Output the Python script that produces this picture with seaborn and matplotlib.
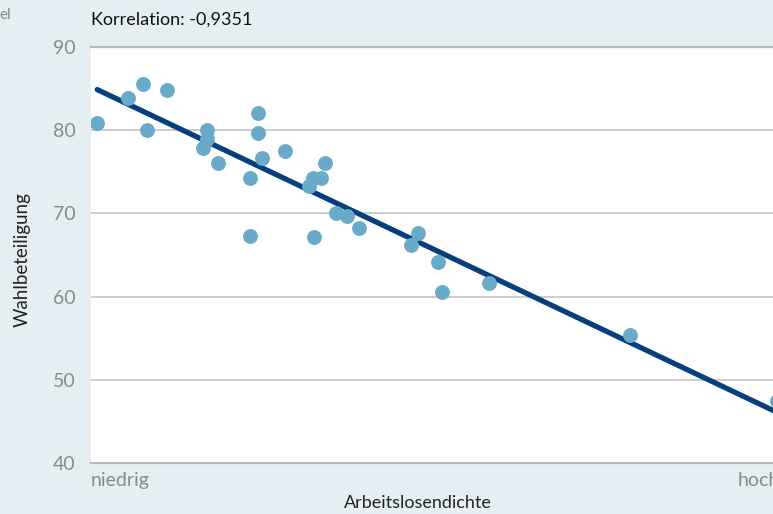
import numpy as np
import pandas as pd
import matplotlib.pyplot as plt
import seaborn as sns

# Data (x: unemployment density, 0 = niedrig, 100 = hoch)
arbeitslosendichte = [0.9, 5.4, 7.6, 8.2, 11.1, 16.2, 16.8, 16.8, 18.4, 23.1,
                      23.1, 24.3, 24.3, 24.8, 28.2, 31.7, 32.2, 32.3, 33.4, 33.9,
                      35.5, 37.2, 38.9, 46.4, 47.5, 50.4, 51.0, 57.7, 78.2, 99.6]
wahlbeteiligung = [80.8, 83.8, 85.5, 80.0, 84.8, 77.8, 80.0, 78.9, 76.0, 74.3,
                   67.3, 82.1, 79.6, 76.7, 77.5, 73.3, 74.2, 67.2, 74.2, 76.1,
                   70.0, 69.7, 68.3, 66.2, 67.7, 64.2, 60.6, 61.6, 55.4, 47.5]
y_ticks = [40, 50, 60, 70, 80, 90]
x_tick_labels = ['niedrig', 'hoch']
korrelation_text = 'Korrelation: -0,9351'

df = pd.DataFrame({'x': arbeitslosendichte, 'y': wahlbeteiligung})

bg = '#e4eef3'
sns.set_style('white')
plt.rcParams['font.family'] = ['Lato', 'DejaVu Sans']

fig = plt.figure(figsize=(7.73, 5.14), dpi=100, facecolor=bg)
ax = fig.add_axes([91 / 773, 1 - 463.3 / 514, 689 / 773, 416.6 / 514])
ax.set_facecolor('white')

# Scatter points and regression line
sns.regplot(data=df, x='x', y='y', ax=ax, ci=None, truncate=True,
            scatter_kws={'s': 115, 'color': '#6aaac9', 'linewidths': 0, 'alpha': 1, 'zorder': 3},
            line_kws={'color': '#053f7e', 'linewidth': 3.8, 'zorder': 2})

ax.set_xlim(0, 100)
ax.set_ylim(40, 90)
ax.set_yticks(y_ticks)
ax.set_yticklabels([str(t) for t in y_ticks], color='#8a8a8a', fontsize=14)
ax.set_xticks([0, 100])
ax.set_xticklabels(x_tick_labels, color='#8a8a8a', fontsize=14)
ax.get_xticklabels()[0].set_ha('left')
ax.get_xticklabels()[1].set_ha('right')
ax.tick_params(length=0, axis='y', pad=11)
ax.tick_params(length=0, axis='x', pad=6)

# Horizontal grid lines only
ax.grid(axis='y', color='#c8c8c8', linewidth=1.3)
ax.grid(axis='x', visible=False)
for side in ['left', 'right']:
    ax.spines[side].set_visible(False)
for side in ['top', 'bottom']:
    ax.spines[side].set_color('#b8b9bd')
    ax.spines[side].set_linewidth(1.6)

ax.set_xlabel('Arbeitslosendichte', fontsize=13, color='#222222')
ax.xaxis.set_label_coords(0.475, -0.075)
ax.set_ylabel('Wahlbeteiligung', fontsize=13.5, color='#222222')
ax.yaxis.set_label_coords(-0.088, 0.49)

fig.text(91 / 773, 1 - 20 / 514, korrelation_text,
         fontsize=13, color='#111111', ha='left', va='center')
fig.text(11 / 773, 1 - 15 / 514, 'el', fontsize=11, color='#8a8a8a', ha='right', va='center')

plt.savefig('out.png', dpi=100, facecolor=bg)
